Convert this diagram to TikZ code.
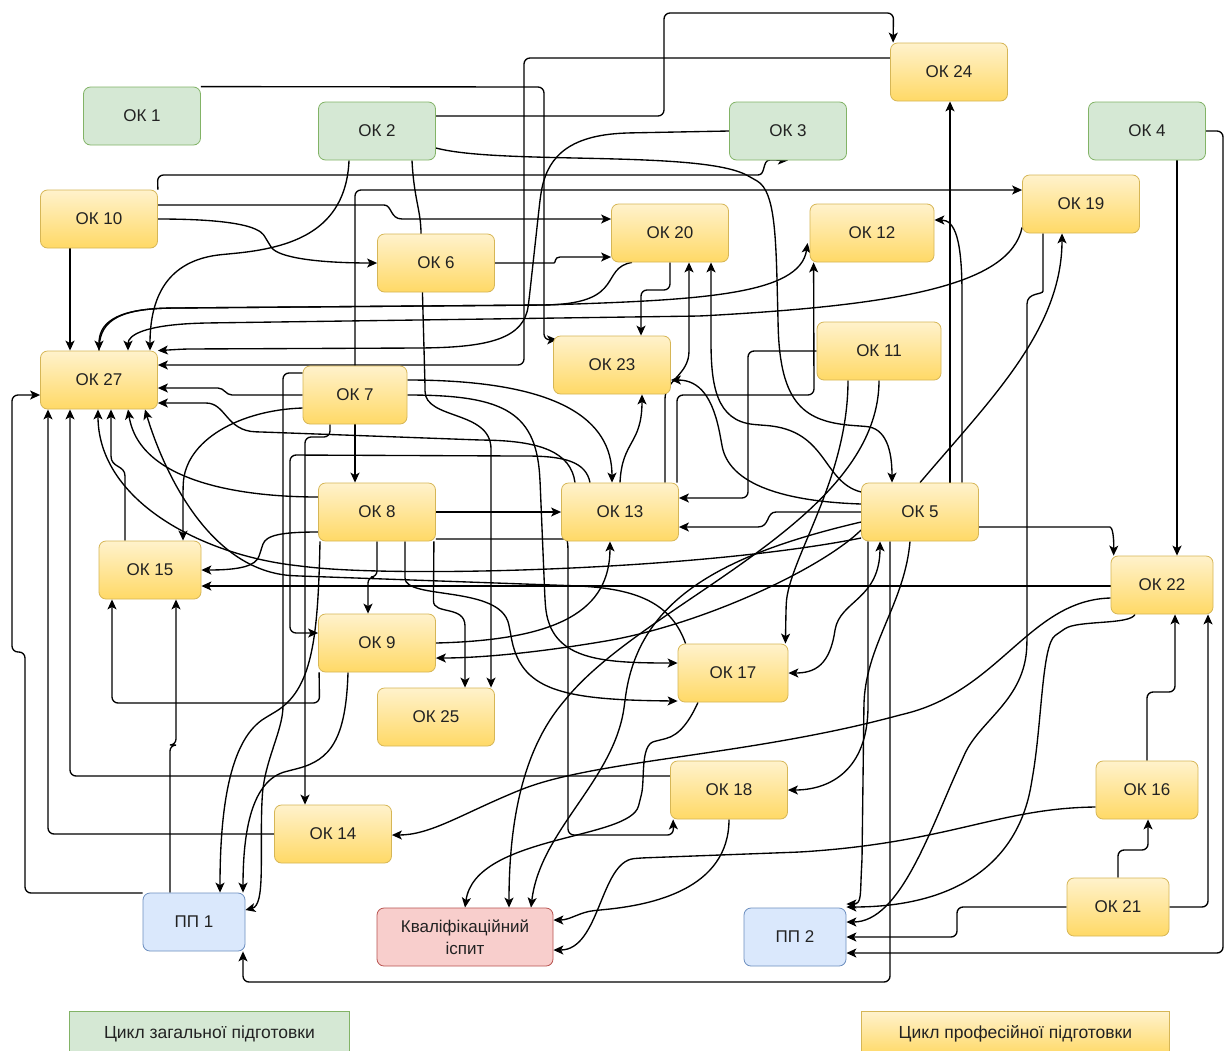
\documentclass[tikz,border=0pt]{standalone}
\usepackage{fontspec}
\setmainfont{Liberation Sans}
\usetikzlibrary{arrows.meta,backgrounds}
\definecolor{genFill}{HTML}{D5E8D4}
\definecolor{genLine}{HTML}{82B366}
\definecolor{profTop}{HTML}{FFF2CC}
\definecolor{profBot}{HTML}{FFD966}
\definecolor{profLine}{HTML}{D6B656}
\definecolor{pracFill}{HTML}{DAE8FC}
\definecolor{pracLine}{HTML}{6C8EBF}
\definecolor{examFill}{HTML}{F8CECC}
\definecolor{examLine}{HTML}{B85450}
\definecolor{txt}{HTML}{222222}
\tikzset{
  box/.style={rounded corners=7pt, minimum width=117pt, minimum height=58pt, inner sep=2pt,
    line width=0.8pt, text=txt, align=center, font=\fontsize{17}{22}\selectfont},
  gen/.style={box, draw=genLine, fill=genFill},
  prof/.style={box, draw=profLine, top color=profTop, bottom color=profBot},
  prac/.style={box, draw=pracLine, fill=pracFill},
  exam/.style={box, draw=examLine, fill=examFill},
  legend/.style={rounded corners=0pt, minimum height=44pt, anchor=north west, font=\fontsize{17.5}{21}\selectfont},
  link/.style={line width=1.35pt, rounded corners=6pt, -{Stealth[length=10pt,width=9pt,inset=2.5pt]}},
  twolink/.style={line width=1.35pt, {Stealth[length=10pt,width=9pt,inset=2.5pt]}-{Stealth[length=10pt,width=9pt,inset=2.5pt]}},
}
\begin{document}
\begin{tikzpicture}[x=1pt,y=-1pt]
        \useasboundingbox (0,0) rectangle (1225,1050);
        \clip (0,0) rectangle (1225,1050);

        \node[gen] (ok1) at (142,116) {ОК 1};
        \node[gen] (ok2) at (377,131) {ОК 2};
        \node[gen] (ok3) at (788,131) {ОК 3};
        \node[gen] (ok4) at (1147,131) {ОК 4};
        \node[prof] (ok24) at (949,72) {ОК 24};
        \node[prof] (ok10) at (99,219) {ОК 10};
        \node[prof] (ok20) at (670,233) {ОК 20};
        \node[prof, minimum width=124pt] (ok12) at (872,233) {ОК 12};
        \node[prof] (ok19) at (1081,204) {ОК 19};
        \node[prof] (ok6) at (436,263) {ОК 6};
        \node[prof] (ok27) at (99,380) {ОК 27};
        \node[prof] (ok23) at (612,365) {ОК 23};
        \node[prof, minimum width=124pt] (ok11) at (879,351) {ОК 11};
        \node[prof, minimum width=104pt] (ok7) at (355,395) {ОК 7};
        \node[prof] (ok8) at (377,512) {ОК 8};
        \node[prof] (ok13) at (620,512) {ОК 13};
        \node[prof] (ok5) at (920,512) {ОК 5};
        \node[prof, minimum width=102pt] (ok15) at (150,570) {ОК 15};
        \node[prof, minimum width=102pt] (ok22) at (1162,585) {ОК 22};
        \node[prof] (ok9) at (377,643) {ОК 9};
        \node[prof, minimum width=110pt] (ok17) at (733,673) {ОК 17};
        \node[prof] (ok25) at (436,717) {ОК 25};
        \node[prof] (ok18) at (729,790) {ОК 18};
        \node[prof, minimum width=102pt] (ok16) at (1147,790) {ОК 16};
        \node[prof] (ok14) at (333,834) {ОК 14};
        \node[prof, minimum width=102pt] (ok21) at (1118,907) {ОК 21};
        \node[prac, minimum width=102pt] (pp1) at (194,922) {ПП 1};
        \node[exam, minimum width=176pt] (kval) at (465,937) {Кваліфікаційний\\іспит};
        \node[prac, minimum width=102pt] (pp2) at (795,937) {ПП 2};

        \node[gen, legend, minimum width=280pt] (legGen) at (69,1011) {Цикл загальної підготовки};
        \node[prof, legend, minimum width=308pt] (legProf) at (861,1011) {Цикл професійної підготовки};

        \begin{pgfonlayer}{background}
        \fill[white] (0,0) rectangle (1225,1050);
        \draw[link] (ok1.north east) -- (544,87) -- (544,340) -- ([xshift=4pt,yshift=-4pt]ok23.north west);
        \draw[link] ([yshift=15pt]ok2.east) -- (664,116) -- (664,13) -- (893.5,13) -- ([xshift=3pt]ok24.north west);
        \draw[link] ([yshift=14pt]ok24.west) -- (524,58) -- (524,365) -- ([yshift=15pt]ok27.east);
        \draw[link] (ok10.north east) -- (157.5,175) -- (752,175) .. controls (766,175) and (762,160) .. (776,160) -- (ok3.south);
        \draw[link] (ok7.north) -- (355,190) -- ([yshift=14pt]ok19.west);
        \draw[link] ([yshift=14pt]ok10.east) -- (378,205) .. controls (392,205) and (390,219) .. (408,219) -- ([yshift=14pt]ok20.west);
        \draw[link] (ok10.east) .. controls (255,219) and (262,232) .. (268,242) .. controls (278,258) and (320,263) .. (ok6.west);
        \draw[link] ([xshift=-29pt]ok10.south) -- ([xshift=-29pt]ok27.north);
        \draw[link] ([xshift=-28pt]ok2.south) .. controls (346,232) and (290,248) .. (228,254) .. controls (165,260) and (150,300) .. ([xshift=51pt]ok27.north);
        \draw[link] ([xshift=-38pt]ok20.south) .. controls (600,268) and (625,302) .. (545,305) -- (175,308) .. controls (112,309) and (99,325) .. (ok27.north);
        \draw[link] ([yshift=6pt]ok19.south west) .. controls (1010,285) and (900,305) .. (700,316) -- (205,323) .. controls (145,325) and (128,335) .. ([xshift=29pt]ok27.north);
        \draw[link] ([xshift=35pt]ok2.south) .. controls (414,200) and (421,210) .. (421,240) -- (425,385) .. controls (425,420) and (491,410) .. (491,455) -- ([xshift=55pt]ok25.north);
        \draw[link] ([xshift=-2pt]ok8.south east) -- (433.5,595) .. controls (433.5,615) and (465,605) .. (465,632) -- ([xshift=29pt]ok25.north);
        \draw[link] (ok6.east) -- (548,263) .. controls (556,263) and (554,257) .. (566,257) -- ([yshift=-24pt]ok20.west);
        \draw[link] (ok3.west) -- (625,133) .. controls (565,137) and (546,160) .. (540,200) -- (529,300) .. controls (524,338) and (490,347) .. (420,348) -- (185,349) -- (ok27.north east);
        \draw[link] ([xshift=57pt]ok13.north) -- (677,395) -- (814,395) -- ([xshift=4pt]ok12.south west);
        \draw[link] (ok27.north) .. controls (99,325) and (112,309) .. (175,308) -- (545,305) .. controls (700,300) and (800,295) .. ([xshift=-2pt,yshift=-10pt]ok12.west);
        \draw[link] (ok11.west) -- (748,351) -- (748,498) -- ([yshift=14pt]ok13.east);
        \draw[link] ([xshift=-31pt]ok11.south) .. controls (848,480) and (788,560) .. (786,610) -- ([xshift=-3pt]ok17.north east);
        \draw[link] (ok11.south) .. controls (879,520) and (650,600) .. (565,700) .. controls (520,755) and (509,830) .. ([xshift=44pt]kval.north);
        \draw[link] ([yshift=-17pt]ok2.east) .. controls (500,165) and (700,150) .. (752,178) .. controls (776,192) and (776,240) .. (778,320) .. controls (780,405) and (805,422) .. (860,426) .. controls (886,428) and (892,450) .. ([xshift=-28pt]ok5.north);
        \draw[link] ([yshift=15pt]ok7.east) .. controls (560,380) and (612,420) .. ([xshift=-8pt]ok13.north);
        \draw[link] (ok7.east) .. controls (500,395) and (535,410) .. (540,480) -- (545,600) .. controls (550,660) and (600,663) .. ([yshift=10pt]ok17.west);
        \draw[link] (ok7.south) -- ([xshift=-22pt]ok8.north);
        \draw[link] ([xshift=-25pt]ok7.south) -- (330,437) -- (305,437) -- ([xshift=-28pt]ok14.north);
        \draw[link] ([xshift=-30pt]ok13.north) .. controls (586,462) and (565,456) .. (520,456) -- (290,455) -- (290,633) -- ([yshift=10pt]ok9.west);
        \draw[link] ([yshift=22pt]ok7.west) -- (283,373) -- (283,700) .. controls (283,730) and (265,760) .. (262,800) .. controls (260,860) and (265,905) .. ([yshift=12pt]pp1.east);
        \draw[link] (ok7.west) -- (238,395) .. controls (226,395) and (224,388) .. (212,388) -- ([yshift=-8pt]ok27.east);
        \draw[link] ([yshift=-13pt]ok7.west) .. controls (240,410) and (185,440) .. (183,490) -- ([xshift=33pt]ok15.north);
        \draw[link] (ok8.east) -- (ok13.west);
        \draw[link] (ok8.south) -- (377,577) -- (368,577) -- ([xshift=-9pt]ok9.north);
        \draw[link] ([xshift=28pt]ok8.south) -- (405,572) .. controls (405,600) and (500,585) .. (510,630) .. controls (520,690) and (560,700) .. ([yshift=-28pt]ok17.west);
        \draw[link] ([yshift=-27pt]ok8.east) -- (560,539) .. controls (568,539) and (568,548) .. (568,560) -- (568,835) -- (673.5,835) -- ([xshift=3pt]ok18.south west);
        \draw[link] ([yshift=-20pt]ok8.west) .. controls (282,532) and (266,535) .. (261,550) .. controls (256,566) and (240,570) .. (ok15.east);
        \draw[link] ([xshift=-57pt]ok8.south) .. controls (318,640) and (312,690) .. (270,715) .. controls (232,738) and (220,800) .. ([xshift=26pt]pp1.north);
        \draw[link] ([yshift=15pt]ok8.west) .. controls (250,497) and (140,485) .. ([xshift=29pt]ok27.south);
        \draw[link] (ok9.east) .. controls (560,640) and (610,610) .. ([xshift=-10pt]ok13.south);
        \draw[link] ([yshift=-18pt]ok5.west) .. controls (820,570) and (700,625) .. (600,642) .. controls (520,655) and (470,658) .. ([yshift=-15pt]ok9.east);
        \draw[link] ([xshift=1pt]ok9.south west) -- (319.5,703) -- (112,703) -- ([xshift=-38pt]ok15.south);
        \draw[link] ([xshift=-29pt]ok9.south) .. controls (346,740) and (330,760) .. (292,770) .. controls (252,780) and (243,830) .. ([xshift=49pt]pp1.north);
        \draw[link] (ok13.north) .. controls (622,440) and (642,445) .. ([xshift=30pt]ok23.south);
        \draw[link] ([xshift=45pt]ok13.north) -- (665,405) .. controls (665,380) and (689,375) .. (689,345) -- ([xshift=19pt]ok20.south);
        \draw[link] ([yshift=20pt]ok5.west) .. controls (822,482) and (828,430) .. (760,425) .. controls (716,421) and (711,385) .. (711,335) -- ([xshift=41pt]ok20.south);
        \draw[link] ([yshift=8pt]ok5.west) .. controls (800,502) and (730,490) .. (721,440) .. controls (713,398) and (700,380) .. ([yshift=-15pt]ok23.east);
        \draw[link] (ok5.west) -- (782,512) .. controls (766,512) and (770,527) .. (752,527) -- ([yshift=-15pt]ok13.east);
        \draw[link] ([xshift=42pt]ok5.north) -- (962,300) .. controls (962,240) and (955,220) .. ([yshift=13pt]ok12.east);
        \draw[link] ([xshift=30pt]ok5.north) -- ([xshift=1pt]ok24.south);
        \draw[link] (ok5.north) .. controls (990,400) and (1062,330) .. ([xshift=-19pt]ok19.south);
        \draw[link] ([yshift=-15pt]ok5.east) -- (1104,527) .. controls (1112,527) and (1114,535) .. ([xshift=3pt]ok22.north west);
        \draw[twolink] ([xshift=-40pt]ok5.south) .. controls (880,600) and (840,600) .. (835,630) .. controls (830,665) and (815,673) .. (ok17.east);
        \draw[link] ([xshift=-52pt]ok5.south) -- (868,700) .. controls (868,770) and (830,790) .. (ok18.east);
        \draw[link] ([xshift=-30pt]ok5.south) -- (890,982) -- (243,982) -- ([xshift=49pt]pp1.south);
        \draw[link] ([xshift=-10pt]ok5.south) .. controls (905,600) and (870,640) .. (864,700) -- (862,860) .. controls (860,895) and (862,904) .. ([yshift=33pt]pp2.east);
        \draw[link] ([yshift=-10pt]ok5.west) .. controls (720,555) and (640,600) .. (625,700) .. controls (615,780) and (540,830) .. ([xshift=66pt]kval.north);
        \draw[link] ([yshift=-13pt]ok22.west) .. controls (1030,600) and (1000,690) .. (900,715) .. controls (750,755) and (600,760) .. (520,790) .. controls (460,815) and (430,835) .. ([yshift=-1pt]ok14.east);
        \draw[link] ([yshift=-1pt]ok22.west) -- ([yshift=-16pt]ok15.east);
        \draw[link] ([xshift=30pt]ok4.south) -- ([xshift=15pt]ok22.north);
        \draw[link] (ok4.east) -- (1223,131) -- (1223,953) -- ([yshift=-16pt]pp2.east);
        \draw[link] (ok21.west) -- (957,907) -- (957,937) -- (pp2.east);
        \draw[link] (ok21.north) -- (1118,850) -- (1148,850) -- ([xshift=1pt]ok16.south);
        \draw[link] (ok21.east) -- (1208,907) -- ([xshift=46pt]ok22.south);
        \draw[link] (ok16.north) -- (1147,692) -- (1175,692) -- ([xshift=13pt]ok22.south);
        \draw[link] ([yshift=-17pt]ok16.west) .. controls (1000,808) and (950,842) .. (800,852) -- (640,858) .. controls (600,862) and (600,950) .. ([yshift=-13pt]kval.east);
        \draw[link] (ok18.south) .. controls (729,890) and (650,905) .. (600,910) .. controls (580,912) and (570,920) .. ([yshift=17pt]kval.east);
        \draw[link] ([xshift=-35pt]ok17.south) .. controls (690,720) and (680,735) .. (660,740) .. controls (640,745) and (645,780) .. (640,800) .. controls (630,840) and (475,835) .. (kval.north);
        \draw[link] (ok14.west) -- (48,834) -- ([xshift=-51pt]ok27.south);
        \draw[link] ([yshift=14pt]ok18.west) -- (70,776) -- ([xshift=-29pt]ok27.south);
        \draw[link] ([xshift=-25pt]ok15.north) -- (125,482) .. controls (125,465) and (111,468) .. (111,450) -- ([xshift=12pt]ok27.south);
        \draw[link] ([yshift=29pt]pp1.west) -- (25,893) -- (25,652) -- (12,652) -- (12,395) -- ([yshift=-15pt]ok27.west);
        \draw[link] ([xshift=-24pt]pp1.north) -- (170,745) -- (176,745) -- ([xshift=26pt]ok15.south);
        \draw[link] ([yshift=-26pt]ok5.west) .. controls (700,570) and (400,578) .. (300,566) .. controls (200,554) and (98,500) .. ([xshift=-1pt]ok27.south);
        \draw[link] ([xshift=-45pt]ok13.north) .. controls (571,452) and (540,441) .. (480,440) -- (262,432) .. controls (226,431) and (226,403) .. (200,403) -- ([yshift=-23pt]ok27.east);
        \draw[link] ([xshift=8pt]ok17.north west) .. controls (672,605) and (640,590) .. (580,586) -- (300,576) .. controls (205,572) and (160,460) .. ([xshift=46pt]ok27.south);
        \draw[link] ([xshift=-38pt]ok19.south) -- (1043,285) .. controls (1043,295) and (1027,292) .. (1027,310) -- (1027,640) .. controls (1025,700) and (980,720) .. (962,760) .. controls (930,830) and (900,922) .. ([yshift=15pt]pp2.east);
        \draw[link] ([xshift=-27pt]ok22.south) .. controls (1130,625) and (1078,620) .. (1060,632) .. controls (1042,645) and (1042,720) .. (1032,780) .. controls (1018,860) and (960,907) .. ([yshift=30pt]pp2.east);
        \draw[link] (ok20.south) -- (670,290) -- (641,290) -- ([xshift=29pt]ok23.north);
        \end{pgfonlayer}

    \end{tikzpicture}
\end{document}
